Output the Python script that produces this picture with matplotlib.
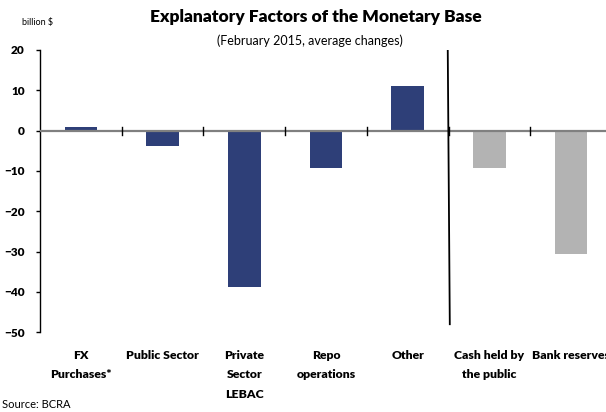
import matplotlib.pyplot as plt

categories = ['FX\nPurchases*', 'Public Sector', 'Private\nSector\nLEBAC',
              'Repo\noperations', 'Other', 'Cash held by\nthe public', 'Bank reserves']
values = [0.9, -3.8, -38.8, -9.2, 11.1, -9.2, -30.5]
groups = ['factor', 'factor', 'factor', 'factor', 'factor', 'use', 'use']

colors = {'factor': '#2e3f78', 'use': '#b3b3b3'}

plt.rcParams['font.family'] = ['Lato', 'DejaVu Sans']

fig = plt.figure(figsize=(6.06, 4.12), dpi=100)
ax = fig.add_axes([40 / 606, 79.7 / 412, 572 / 606, 282.3 / 412])

x = list(range(len(categories)))
ax.bar(x, values, width=0.4, color=[colors[g] for g in groups], zorder=2)

ax.set_xlim(-0.5, len(categories) - 0.5)
ax.set_ylim(-50, 20)
ax.set_yticks(range(-50, 21, 10))
ax.tick_params(axis='y', direction='out', length=3, width=1, labelsize=8.5, pad=8)
for lab in ax.get_yticklabels():
    lab.set_fontweight('heavy')

for s in ['top', 'right', 'bottom']:
    ax.spines[s].set_visible(False)
ax.spines['left'].set_linewidth(1)

# zero line with category separators
ax.axhline(0, color='#808080', lw=1.6, zorder=3)
for b in [i + 0.5 for i in range(len(categories) - 1)]:
    ax.plot([b, b], [-1.0, 1.0], color='black', lw=1, zorder=4)

# divider between factors and uses
ax.plot([4.49, 4.515], [20, -48], color='black', lw=1.3, zorder=4)

ax.set_xticks([])
for xi, lab in zip(x, categories):
    ax.text(xi, -54.3, lab, ha='center', va='top', fontsize=8.8, fontweight='heavy',
            linespacing=1.95, clip_on=False)

fig.text(316 / 606, 1 - 17 / 412, 'Explanatory Factors of the Monetary Base',
         ha='center', va='center', fontsize=12.5, fontweight='heavy')
fig.text(310 / 606, 1 - 41 / 412, '(February 2015, average changes)',
         ha='center', va='center', fontsize=9)
fig.text(22 / 606, 1 - 22 / 412, 'billion $', ha='left', va='center', fontsize=6.5)
fig.text(2 / 606, 1 - 405 / 412, 'Source: BCRA', ha='left', va='center', fontsize=8)

fig.savefig('out.png', dpi=100)
